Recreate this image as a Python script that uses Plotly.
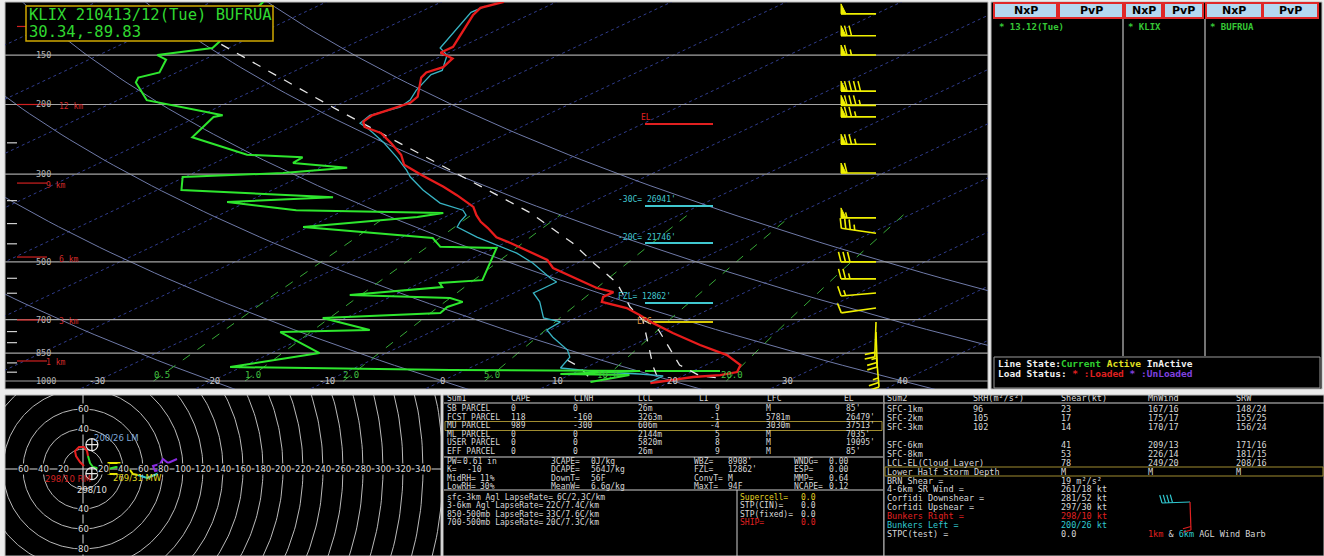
import numpy as np
import plotly.graph_objects as go

W, H = 1324, 556
MONO = "DejaVu Sans Mono"
SANS = "DejaVu Sans"

# ---------------------------------------------------------------- sounding
TEMP_P = [110, 114, 119, 143, 148, 153, 161, 166, 171, 191, 198, 213, 221, 228, 236, 250, 268, 284,
          302, 323, 339, 363, 381, 396, 410, 433, 448, 472, 494, 518, 556, 582, 596, 613, 631, 654,
          681, 713, 756, 811, 860, 911, 949, 966, 977, 994, 1012]
TEMP_C = [-64.6, -65.5, -64.8, -60.7, -60.7, -58.6, -57.8, -58.3, -57.8, -54.6, -54.1, -55.1, -54.7,
          -53.6, -51.1, -48.4, -45.3, -43.2, -39.7, -35.7, -33.0, -29.4, -27.6, -26.0, -24.3, -21.8,
          -19.5, -16.1, -13.2, -11.2, -6.6, -3.7, -1.5, -1.5, -0.7, 2.6, 5.0, 7.6, 11.2, 15.8, 20.0,
          23.0, 24.0, 23.1, 21.1, 19.9, 18.5]

WETBULB_P = [113, 117, 144, 150, 164, 168, 184, 195, 203, 213, 223, 232, 250, 272, 293, 305, 329, 355,
             370, 381, 396, 408, 433, 458, 475, 503, 549, 562, 599, 631, 693, 709, 743, 774, 835, 870,
             927, 949, 960, 971, 1006]
WETBULB_C = [-65.4, -65.5, -61.6, -59.7, -57.3, -57.5, -55.9, -54.6, -54.2, -55.3, -54.7, -52.6, -49.0,
             -45.2, -42.0, -40.4, -36.9, -33.0, -29.7, -28.5, -27.8, -27.1, -23.5, -19.7, -17.1, -13.9,
             -9.6, -8.3, -8.3, -6.1, -2.8, -0.6, -0.3, 1.5, 5.2, 6.7, 7.9, 12.1, 15.9, 18.3, 18.3]

DEWPT_P = [110, 140, 144, 150, 154, 166, 171, 176, 195, 213, 215, 242, 268, 272, 281, 289, 298, 305,
           329, 343, 353, 370, 376, 385, 408, 435, 448, 458, 461, 556, 565, 579, 606, 617, 631, 650,
           673, 693, 743, 752, 850, 922, 938, 944, 960, 966, 1006]
DEWPT_C = [-85.5, -81.9, -81.4, -84.9, -83.3, -81.5, -82.4, -81.7, -77.5, -68.1, -68.6, -66.7, -58.7,
           -53.4, -53.2, -47.6, -52.2, -60.2, -57.9, -43.4, -51.7, -44.2, -30.9, -32.4, -40.5, -27.2,
           -25.9, -24.9, -19.8, -15.1, -18.3, -17.3, -23.9, -14.6, -12.8, -13.2, -12.7, -22.0, -15.7,
           -23.1, -15.8, -21.0, -1.3, 15.4, 9.0, 15.2, 13.1]

PARCEL_P = [141, 204, 302, 376, 448, 503, 565, 650, 701, 922, 1006]
PARCEL_C = [-81.3, -59.8, -36.4, -23.3, -14.1, -8.6, -2.9, 2.7, 6.2, 15.8, 19.1]
VPARCEL_P = [701, 730, 911, 971, 983]
VPARCEL_C = [6.2, 8.7, 17.7, 21.5, 23.6]
DOWNDRAFT_P = [885, 922, 983]
DOWNDRAFT_C = [7.0, 9.4, 12.3]

WIND_P = [118, 134, 150, 185, 201, 215, 252, 298, 387, 423, 500, 552, 599, 654, 709, 752, 845]
WIND_DIR = [270, 270, 270, 270, 270, 270, 270, 270, 270, 278, 270, 270, 265, 262, 182, 178, 175]
WIND_KT = [50, 70, 65, 90, 85, 75, 75, 60, 55, 35, 30, 25, 15, 10, 20, 25, 25]

ISOBARS = [150, 200, 300, 500, 700, 850, 1000]
MINOR_P = [250, 350, 400, 450, 550, 600, 750, 800, 900, 950]
ISOTHERM_LABELS = [-30, -20, -10, 0, 10, 20, 30, 40]
MIXRATIO = [0.5, 1.0, 2.0, 5.0, 10.0, 20.0]
DRY_ADIABAT_C = [-40, -20, 0, 20, 40, 60, 80]          # potential temperature, deg C
HEIGHT_TEXT = ["", "12 km", "9 km", "6 km", "3 km", "1 km"]
HEIGHT_P = [127, 200, 316, 486, 701, 890]

LEVEL_TEXT = ["EL", "-30C= 26941'", "-20C= 21746'", "FZL= 12862'", "LFC", "LCL"]
LEVEL_P = [224, 361, 448, 635, 709, 944]
LEVEL_COLOR = ["#e02020", "#40c8d0", "#40c8d0", "#40c8d0", "#d8c800", "#2ee02e"]

# ---------------------------------------------------------------- hodograph
HODO_LAYERS = [
    ("#e82020", [1, -3, -7, -8, -4, 1, 4, 5], [3, 7, 13, 18, 22, 22, 18, 13]),
    ("#30e030", [5, 7, 10, 17, 25, 33, 42, 47], [13, 6, 2, 0, 0, 2, 1, -1]),
    ("#e8e800", [47, 50, 55], [-1, -5, -6]),
    ("#30c8d8", [55, 64, 74, 80], [-6, -9, -5, -1]),
    ("#8a2be2", [80, 72, 70, 77, 80, 85, 94], [-1, -2, 3, 5, 10, 6, 10]),
]
STORM_LM = (200, 26)
STORM_RM = (298, 10)
STORM_MW = (269, 31)

# ---------------------------------------------------------------- tables
SUM1_HEAD = ["Sum1", "CAPE", "CINH", "LCL", "LI", "LFC", "EL"]
PARCELS = ["SB PARCEL", "FCST PARCEL", "MU PARCEL", "ML PARCEL", "USER PARCEL", "EFF PARCEL"]
CAPE = ["0", "118", "989", "0", "0", "0"]
CINH = ["0", "-160", "-300", "0", "0", "0"]
LCL = ["26m", "3263m", "606m", "2144m", "5820m", "26m"]
LI = ["9", "-1", "-4", "5", "8", "9"]
LFC = ["M", "5781m", "3030m", "M", "M", "M"]
EL = ["85'", "26479'", "37513'", "7035'", "19095'", "85'"]

IDX_COLS = [
    [("PW=", "0.61 in"), ("K=", "-10"), ("MidRH=", "11%"), ("LowRH=", "30%")],
    [("3CAPE=", "0J/kg"), ("DCAPE=", "564J/kg"), ("DownT=", "56F"), ("MeanW=", "6.6g/kg")],
    [("WBZ=", "8908'"), ("FZL=", "12862'"), ("ConvT=", "M"), ("MaxT=", "94F")],
    [("WNDG=", "0.00"), ("ESP=", "0.00"), ("MMP=", "0.64"), ("NCAPE=", "0.12")],
]
LAPSE = [("sfc-3km Agl LapseRate=", "6C/2.3C/km"), ("3-6km Agl LapseRate=", "22C/7.4C/km"),
         ("850-500mb LapseRate=", "33C/7.6C/km"), ("700-500mb LapseRate=", "20C/7.3C/km")]
SEVERE = [("Supercell=", "0.0", "#e0d020"), ("STP(CIN)=", "0.0", "#d8d8d8"),
          ("STP(fixed)=", "0.0", "#d8d8d8"), ("SHIP=", "0.0", "#e02020")]

SUM2_HEAD = ["Sum2", "SRH(m\u00b2/s\u00b2)", "Shear(kt)", "MnWind", "SRW"]
SUM2_ROWS = [
    ("SFC-1km", "96", "23", "167/16", "148/24"),
    ("SFC-2km", "105", "17", "175/17", "155/25"),
    ("SFC-3km", "102", "14", "170/17", "156/24"),
    None,
    ("SFC-6km", "", "41", "209/13", "171/16"),
    ("SFC-8km", "", "53", "226/14", "181/15"),
    ("LCL-EL(Cloud Layer)", "", "78", "249/20", "208/16"),
    ("Lower Half Storm Depth", "", "M", "M", "M"),
]
SUM2_MISC = [
    ("BRN Shear =", "19 m\u00b2/s\u00b2", "#d8d8d8"),
    ("4-6km SR Wind =", "261/18 kt", "#d8d8d8"),
    ("Corfidi Downshear =", "281/52 kt", "#d8d8d8"),
    ("Corfidi Upshear =", "297/30 kt", "#d8d8d8"),
    ("Bunkers Right =", "298/10 kt", "#e02020"),
    ("Bunkers Left =", "200/26 kt", "#30c8d0"),
    ("STPC(test) =", "0.0", "#d8d8d8"),
]
MINI_BARBS = [(268, 40, "#30c8d0"), (178, 20, "#e02020")]  # 6 km and 1 km AGL winds

# ---------------------------------------------------------------- geometry
SK_L, SK_R, SK_T, SK_B = 5, 988, 2, 389
X0_PX, PX_PER_C = 442.0, 11.5
P1000_PX, PX_PER_DEC = 381.0, 395.6
SKEW = 73.0
X_LEFT = (SK_L - X0_PX) / PX_PER_C
X_RIGHT = (SK_R - X0_PX) / PX_PER_C
LOGP_TOP = 3 - (P1000_PX - SK_T) / PX_PER_DEC
LOGP_BOT = 3 + (SK_B - P1000_PX) / PX_PER_DEC
BARB_X = (876 - X0_PX) / PX_PER_C

HD_L, HD_R, HD_T, HD_B = 5, 441, 395, 556
HD_CX, HD_CY = 83, 469


def skx(t, p):
    return np.asarray(t, float) + SKEW * np.log10(1000.0 / np.asarray(p, float))


def dewpt_from_w(w, p):
    e = w * p / (622.0 + w)
    a = np.log(e / 6.112)
    return 243.5 * a / (17.67 - a)


fig = go.Figure()
ANN = []
SHAPES = []


def label(x, y, text, color="#d4d4d4", size=8.5, xanchor="left", family=MONO, bold=False,
          bg=None, xref="paper", yref="paper", xshift=0, yshift=0):
    if not text:
        return
    if xref == "paper":
        x = x / W
    if yref == "paper":
        y = 1 - y / H
    a = dict(x=x, y=y, xref=xref, yref=yref, text=("<b>%s</b>" % text) if bold else text,
             showarrow=False, xanchor=xanchor, yanchor="middle", borderpad=0,
             xshift=xshift, yshift=yshift, font=dict(family=family, size=size, color=color))
    if bg:
        a["bgcolor"] = bg
    ANN.append(a)


def rect(x0, y0, x1, y1, line=None, fill=None, width=1, layer="above"):
    s = dict(type="rect", xref="paper", yref="paper", x0=x0 / W, x1=x1 / W,
             y0=1 - y1 / H, y1=1 - y0 / H, layer=layer,
             line=dict(width=width if line else 0, color=line or "rgba(0,0,0,0)"))
    if fill:
        s["fillcolor"] = fill
    SHAPES.append(s)


def seg(x0, y0, x1, y1, color, width=1):
    SHAPES.append(dict(type="line", xref="paper", yref="paper", x0=x0 / W, x1=x1 / W,
                       y0=1 - y0 / H, y1=1 - y1 / H, line=dict(color=color, width=width)))


def skew_line(xs, ps, color, width=1, dash="solid"):
    fig.add_trace(go.Scatter(x=xs, y=ps, mode="lines", xaxis="x", yaxis="y", hoverinfo="skip",
                             line=dict(color=color, width=width, dash=dash), showlegend=False))


def barb_parts(direction, speed, length, height, flag_w, step):
    d = np.deg2rad(direction)
    sx, sy = np.sin(d), np.cos(d)
    qx, qy = sy, -sx
    lines = [((0.0, 0.0), (sx * length, sy * length))]
    flags = []
    n5 = int(round(speed / 5.0))
    nflag, rem = divmod(n5, 10)
    nfull, nhalf = divmod(rem, 2)
    pos = length
    for _ in range(nflag):
        a = (sx * pos, sy * pos)
        b = (sx * pos + qx * height, sy * pos + qy * height)
        c = (sx * (pos - flag_w), sy * (pos - flag_w))
        flags.append((a, b, c))
        pos -= flag_w + 1.0
    if nflag == 0 and nfull == 0:
        pos -= step
    lean = 0.25
    for _ in range(nfull):
        lines.append(((sx * pos, sy * pos),
                      (sx * (pos + lean * height) + qx * height, sy * (pos + lean * height) + qy * height)))
        pos -= step
    if nhalf:
        hh = height * 0.55
        lines.append(((sx * pos, sy * pos),
                      (sx * (pos + lean * hh) + qx * hh, sy * (pos + lean * hh) + qy * hh)))
    return lines, flags


# ---------------------------------------------------------------- panels
for (x0, y0, x1, y1) in [(SK_L, SK_T, SK_R, SK_B), (991, 2, 1322, SK_B), (HD_L, HD_T, HD_R, HD_B),
                         (443, 395, 884, 556), (884, 395, 1324, 556)]:
    rect(x0, y0, x1, y1, line="#bdbdbd", fill="#000000", width=1, layer="below")

# ---------------------------------------------------------------- skew-T background
pg = np.logspace(np.log10(1060), np.log10(100), 80)
xs, ys = [], []
for t in range(-150, 60, 10):
    xs += list(skx(t, pg)) + [None]
    ys += list(pg) + [None]
skew_line(xs, ys, "#303c8c", 1, "dot")

xs, ys = [], []
for c in DRY_ADIABAT_C:
    th = 273.15 + c
    xs += list(skx(th * (pg / 1000.0) ** 0.2857 - 273.15, pg)) + [None]
    ys += list(pg) + [None]
skew_line(xs, ys, "#6f7aa8", 1)

pm = np.logspace(np.log10(1000), np.log10(380), 30)
xs, ys = [], []
for w in MIXRATIO:
    xs += list(skx(dewpt_from_w(w, pm), pm)) + [None]
    ys += list(pm) + [None]
skew_line(xs, ys, "#36a836", 1, "dash")

xs, ys = [], []
for p in ISOBARS:
    xs += [X_LEFT, X_RIGHT, None]
    ys += [p, p, None]
skew_line(xs, ys, "#a4a4a4", 1.2)

xs, ys = [], []
for p in MINOR_P:
    xs += [(7 - X0_PX) / PX_PER_C, (17 - X0_PX) / PX_PER_C, None]
    ys += [p, p, None]
skew_line(xs, ys, "#d0d0d0", 1.2)

xs, ys = [], []
for p in HEIGHT_P:
    xs += [(17 - X0_PX) / PX_PER_C, (47 - X0_PX) / PX_PER_C, None]
    ys += [p, p, None]
skew_line(xs, ys, "#d02020", 1.2)

for txt, p in zip(HEIGHT_TEXT, HEIGHT_P):
    near_isobar = min(abs(np.log10(p / q)) for q in ISOBARS) * PX_PER_DEC < 7
    label(58 if near_isobar else 45, np.log10(p), txt, "#d02a2a", 8, yref="y", yshift=-2)
for p in ISOBARS:
    label(35, np.log10(p), str(p), "#b4b4b4", 8.5, yref="y")

# level markers
for txt, p, col in zip(LEVEL_TEXT, LEVEL_P, LEVEL_COLOR):
    x0 = (653 - X0_PX) / PX_PER_C if txt == "LFC" else (645 - X0_PX) / PX_PER_C
    x1 = (720 - X0_PX) / PX_PER_C if txt == "LCL" else (713 - X0_PX) / PX_PER_C
    skew_line([x0, x1], [p, p], col, 2)
    if txt == "LFC":
        label(x0, np.log10(p), txt, "#e09a40", 8, xanchor="right", xref="x", yref="y")
    elif txt == "EL":
        label(640, np.log10(p), txt, col, 8, yref="y", yshift=6)
    elif txt != "LCL":
        label(617, np.log10(p), txt, col, 8, yref="y", yshift=6)

# profiles
skew_line(skx(PARCEL_C, PARCEL_P), PARCEL_P, "#e6e6e6", 1.3, "dash")
skew_line(skx(VPARCEL_C, VPARCEL_P), VPARCEL_P, "#e6e6e6", 1.3, "dash")
skew_line(skx(DOWNDRAFT_C, DOWNDRAFT_P), DOWNDRAFT_P, "#e6e6e6", 1.3, "dash")
skew_line(skx(WETBULB_C, WETBULB_P), WETBULB_P, "#38b4c4", 1.3)
skew_line(skx(DEWPT_C, DEWPT_P), DEWPT_P, "#2ee62e", 2)
skew_line(skx(TEMP_C, TEMP_P), TEMP_P, "#e81c1c", 2.3)

# axis labels inside the diagram
for t in ISOTHERM_LABELS:
    label(t, 3.0, str(t), "#c4c4c4", 9, xanchor="center", xref="x", yref="y")
for w in MIXRATIO:
    label(float(skx(dewpt_from_w(w, 966.0), 966.0)), np.log10(966.0), "%.1f" % w, "#40c040", 9,
          xanchor="center", xref="x", yref="y")

# wind barbs
bx, by, fx, fy = [], [], [], []
for p0, dd, ss in zip(WIND_P, WIND_DIR, WIND_KT):
    lines, flags = barb_parts(dd, ss, 35, 10, 5, 4.5)
    for (a, b) in lines:
        for (ox, oy) in (a, b):
            bx.append(BARB_X + ox / PX_PER_C)
            by.append(p0 * 10 ** (-oy / PX_PER_DEC))
        bx.append(None)
        by.append(None)
    for tri in flags:
        for (ox, oy) in list(tri) + [tri[0]]:
            fx.append(BARB_X + ox / PX_PER_C)
            fy.append(p0 * 10 ** (-oy / PX_PER_DEC))
        fx.append(None)
        fy.append(None)
fig.add_trace(go.Scatter(x=fx, y=fy, mode="lines", fill="toself", fillcolor="#f0f000",
                         line=dict(color="#f0f000", width=1), xaxis="x", yaxis="y",
                         hoverinfo="skip", showlegend=False))
fig.add_trace(go.Scatter(x=bx, y=by, mode="lines", line=dict(color="#f0f000", width=1.6),
                         xaxis="x", yaxis="y", hoverinfo="skip", showlegend=False))

# title box
rect(26, 6, 273, 41, line="#d0a800", fill="#000000", width=1.5)
label(28, 15, "KLIX 210413/12(Tue) BUFRUA", "#30d830", 15.5)
label(28, 32, "30.34,-89.83", "#30d830", 15.5)

# ---------------------------------------------------------------- hodograph
th = np.linspace(0, 2 * np.pi, 361)
xs, ys = [], []
for r in range(20, 380, 20):
    xs += list(r * np.cos(th)) + [None]
    ys += list(r * np.sin(th)) + [None]
fig.add_trace(go.Scatter(x=xs, y=ys, mode="lines", line=dict(color="#cfcfcf", width=0.9),
                         xaxis="x2", yaxis="y2", hoverinfo="skip", showlegend=False))
fig.add_trace(go.Scatter(x=[-100, 400, None, 0, 0], y=[0, 0, None, -100, 100], mode="lines",
                         line=dict(color="#d8d8d8", width=1), xaxis="x2", yaxis="y2",
                         hoverinfo="skip", showlegend=False))
for u in [-60, -40, -20] + list(range(20, 360, 20)):
    label(u, 0, str(abs(u)), "#dcdcdc", 8.5, xanchor="center", family=SANS, bg="#000000",
          xref="x2", yref="y2")
for v in [60, 40, -40, -60, -80]:
    label(0, v, str(abs(v)), "#dcdcdc", 8.5, xanchor="center", family=SANS, bg="#000000",
          xref="x2", yref="y2")
for col, us, vs in HODO_LAYERS:
    fig.add_trace(go.Scatter(x=us, y=vs, mode="lines", line=dict(color=col, width=2),
                             xaxis="x2", yaxis="y2", hoverinfo="skip", showlegend=False))


def motion_uv(m):
    d = np.deg2rad(m[0])
    return -m[1] * np.sin(d), -m[1] * np.cos(d)


lm, rm, mw = motion_uv(STORM_LM), motion_uv(STORM_RM), motion_uv(STORM_MW)
fig.add_trace(go.Scatter(x=[lm[0], rm[0]], y=[lm[1], rm[1]], mode="markers",
                         marker=dict(symbol="circle-cross-open", size=12, color="#e8e8e8",
                                     line=dict(width=1.2)),
                         xaxis="x2", yaxis="y2", hoverinfo="skip", showlegend=False))
fig.add_trace(go.Scatter(x=[mw[0]], y=[mw[1]], mode="markers",
                         marker=dict(symbol="square-open", size=11, color="#e8e800", line=dict(width=2)),
                         xaxis="x2", yaxis="y2", hoverinfo="skip", showlegend=False))
label(lm[0], lm[1], "%d/%d LM" % STORM_LM, "#7fa8d8", 8.5, family=SANS, xref="x2", yref="y2",
      xshift=1, yshift=7)
label(rm[0], rm[1], "%d/%d RM" % STORM_RM, "#d02020", 8.5, xanchor="right", family=SANS,
      xref="x2", yref="y2", yshift=-5)
label(mw[0], mw[1], "%d/%d MW" % STORM_MW, "#e0d820", 8.5, family=SANS, xref="x2", yref="y2",
      xshift=-2, yshift=-10)
label(rm[0], rm[1], "%d/%d" % STORM_RM, "#e0e0e0", 8.5, xanchor="center", family=SANS,
      xref="x2", yref="y2", xshift=0, yshift=-16)

# ---------------------------------------------------------------- right panel
BTN = [(994, 1057, "NxP"), (1059, 1123, "PvP"), (1125, 1162, "NxP"), (1164, 1203, "PvP"),
       (1206, 1262, "NxP"), (1263, 1318, "PvP")]
for x0, x1, t in BTN:
    rect(x0, 3, x1, 18, line="#e02828", fill="#b4d8f0", width=2)
    label((x0 + x1) / 2, 11, t, "#000000", 11, xanchor="center", family=SANS, bold=True)
for xv in (1123, 1205):
    seg(xv, 19, xv, 356, "#9a9a9a", 1.5)
rect(994, 357, 1320, 388, line="#9a9a9a", width=1)
label(998, 27, "* 13.12(Tue)", "#36c836", 9, bold=True)
label(1127, 27, "* KLIX", "#36c836", 9, bold=True)
label(1209, 27, "* BUFRUA", "#36c836", 9, bold=True)
label(997, 363, 'Line State:<span style="color:#30d030">Current</span> '
      '<span style="color:#e0e020">Active</span> InActive', "#f0f0f0", 9.5, bold=True)
label(997, 373, 'Load Status: <span style="color:#e02020">* :Loaded</span> '
      '<span style="color:#8040e0">* :UnLoaded</span>', "#f0f0f0", 9.5, bold=True)

# ---------------------------------------------------------------- Sum1 table
TXT = "#d6d6d6"
S1 = 8
for t, x in zip(SUM1_HEAD, [446, 510, 573, 637, 698, 766, 843]):
    label(x, 398, t, TXT, S1)
seg(444, 403, 883, 403, "#d0d0d0", 1)
rect(445, 421.5, 882, 430.5, line="#a08c30", width=1)
for i, name in enumerate(PARCELS):
    y = 408.5 + i * 8.6
    label(446, y, name, TXT, S1)
    label(510, y, CAPE[i], TXT, S1)
    label(572, y, CINH[i], TXT, S1)
    label(637, y, LCL[i], TXT, S1)
    label(721, y, LI[i], TXT, S1, xanchor="right")
    label(765, y, LFC[i], TXT, S1)
    label(845, y, EL[i], TXT, S1)
seg(444, 457, 883, 457, "#d0d0d0", 1)
for col, (xl, xv) in zip(IDX_COLS, [(446, 462), (550, 590), (693, 727), (793, 828)]):
    for j, (k, v) in enumerate(col):
        y = 461.5 + j * 8.3
        label(xl, y, k, TXT, S1)
        label(479 if k in ("MidRH=", "LowRH=") else (xv + 4 if k == "K=" else xv), y, v, TXT, S1)
seg(444, 490, 883, 490, "#d0d0d0", 1)
seg(737, 490, 737, 556, "#d0d0d0", 1)
for j, (k, v) in enumerate(LAPSE):
    y = 497.5 + j * 8.4
    label(446, y, k, TXT, S1)
    label(556 if j == 0 else 545, y, v, TXT, S1)
for j, (k, v, c) in enumerate(SEVERE):
    y = 497.5 + j * 8.4
    label(739, y, k, c, S1)
    label(800, y, v, c, S1)

# ---------------------------------------------------------------- Sum2 table
for t, x in zip(SUM2_HEAD, [886, 972, 1060, 1147, 1235]):
    label(x, 398, t, TXT)
seg(884, 403, 1324, 403, "#d0d0d0", 1)
rect(885, 467, 1323, 476, line="#a08c30", width=1)
y = 409
for row in SUM2_ROWS:
    if row is None:
        y += 9.2
        continue
    for t, x in zip(row, [886, 972, 1060, 1147, 1235]):
        label(x, y, t, TXT)
    y += 8.9
y = 480.5
for k, v, c in SUM2_MISC:
    label(886, y, k, c)
    label(1060, y, v, c)
    y += 8.9
label(1147, 533.5, '<span style="color:#e02020">1km</span> &amp; '
      '<span style="color:#30c8d0">6km</span> AGL Wind Barb', TXT)
for dd, ss, col in MINI_BARBS:
    lines, _ = barb_parts(dd, ss, 28, 8, 4, 3.5)
    for (a, b) in lines:
        seg(1190 + a[0], 502 - a[1], 1190 + b[0], 502 - b[1], col, 1.2)

# ---------------------------------------------------------------- layout
fig.update_layout(
    width=W, height=H, margin=dict(l=0, r=0, t=0, b=0),
    paper_bgcolor="#ececec", plot_bgcolor="#000000", showlegend=False,
    xaxis=dict(domain=[SK_L / W, SK_R / W], range=[X_LEFT, X_RIGHT], visible=False),
    yaxis=dict(domain=[1 - SK_B / H, 1 - SK_T / H], type="log", range=[LOGP_BOT, LOGP_TOP],
               visible=False),
    xaxis2=dict(domain=[HD_L / W, HD_R / W], range=[HD_L - HD_CX, HD_R - HD_CX], visible=False,
                anchor="y2"),
    yaxis2=dict(domain=[1 - HD_B / H, 1 - HD_T / H], range=[HD_CY - HD_B, HD_CY - HD_T],
                visible=False, anchor="x2"),
    annotations=ANN, shapes=SHAPES,
)
fig.write_html("out.html")
